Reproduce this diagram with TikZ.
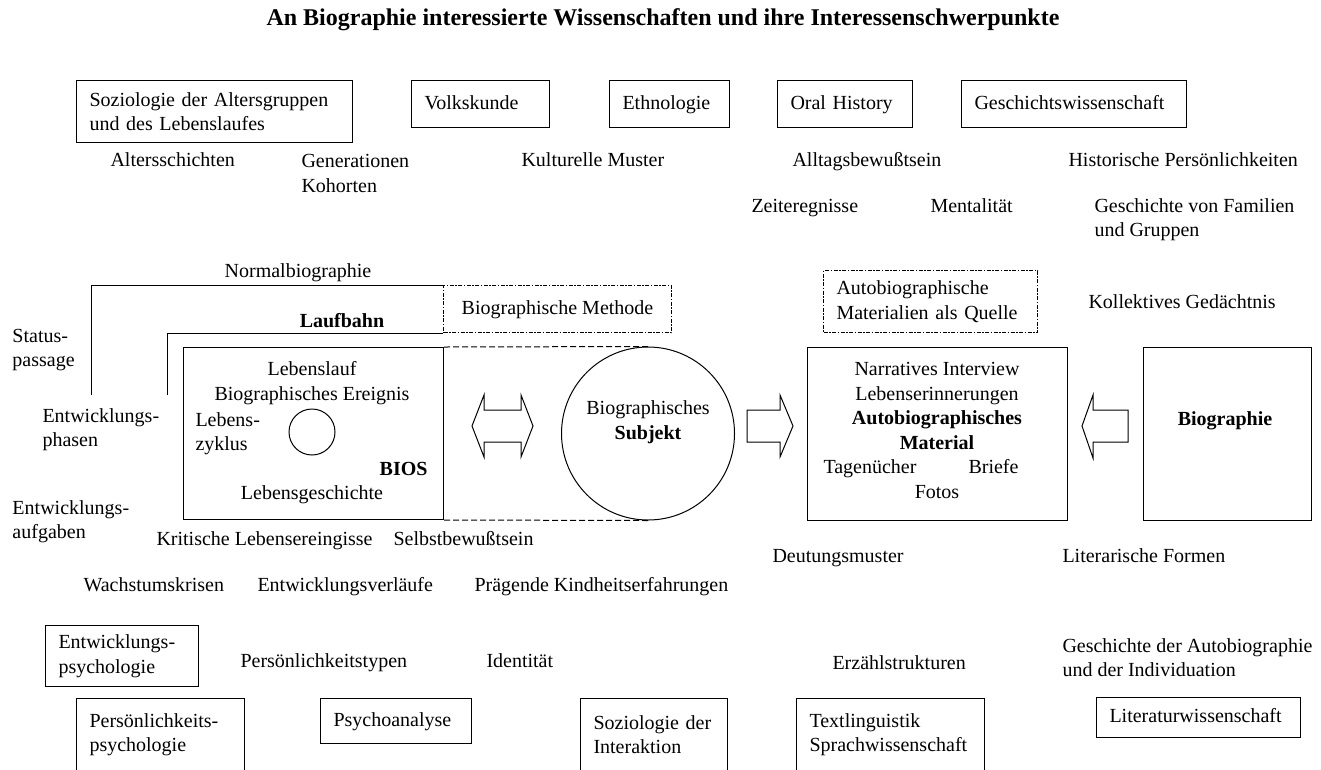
\documentclass[tikz,border=0pt]{standalone}
\usepackage{fontspec}
\setmainfont{Liberation Serif}
\begin{document}
\begin{tikzpicture}[x=1pt,y=-1pt,line width=1pt,
  every node/.style={font=\fontsize{20}{24.5}\selectfont}]

\tikzstyle{lbl}=[inner sep=0pt,anchor=west,align=left]
\tikzstyle{one}=[text height=14pt,text depth=4pt]
\tikzstyle{fett}=[font=\fontsize{20}{24.5}\selectfont\bfseries]
\tikzstyle{box}=[draw,inner xsep=13pt,inner ysep=0pt,anchor=north west,align=left]
\tikzstyle{quelle}=[box,dash pattern=on 4pt off 1.5pt on 1.5pt off 1.5pt]
\tikzstyle{frame}=[draw,inner sep=0pt,anchor=north west]
\tikzstyle{blockarrow}=[draw,fill=white]

\useasboundingbox (0,0) rectangle (1321,769);
\clip (0,0) rectangle (1321,769);

\node[font=\fontsize{24}{28}\selectfont\bfseries] (title) at (663,20) {An Biographie interessierte Wissenschaften und ihre Interessenschwerpunkte};

% Wissenschaften oben
\node[box,text width=250pt,minimum height=62pt] (soz) at (76,80) {Soziologie der Altersgruppen\\und des Lebenslaufes};
\node[box,one,text width=112pt,minimum height=47pt] (volk) at (411,80) {Volkskunde};
\node[box,one,text width=94pt,minimum height=47pt] (ethno) at (609,80) {Ethnologie};
\node[box,one,text width=109pt,minimum height=47pt] (oral) at (777,80) {Oral History};
\node[box,one,text width=199pt,minimum height=47pt] (gesch) at (961,80) {Geschichtswissenschaft};

\node[lbl,one] (alters) at (110,161) {Altersschichten};
\node[lbl] (gener) at (301,173.5) {Generationen\\Kohorten};
\node[lbl,one] (kultur) at (521,161) {Kulturelle Muster};
\node[lbl,one] (alltag) at (792,161) {Alltagsbewußtsein};
\node[lbl,one] (histor) at (1068,161) {Historische Persönlichkeiten};
\node[lbl,one] (zeit) at (751,207) {Zeiteregnisse};
\node[lbl,one] (mental) at (930,207) {Mentalität};
\node[lbl] (familien) at (1094,219.5) {Geschichte von Familien\\und Gruppen};

% Laufbahn und Methode
\node[lbl,one,anchor=center] (normal) at (298,272) {Normalbiographie};
\node[lbl,one,fett,anchor=center] (laufbahn) at (342,322) {Laufbahn};
\node[quelle,one,minimum width=228pt,minimum height=47pt,align=center] (methode) at (443,285) {Biographische Methode};
\coordinate (normend) at (91,395);
\coordinate (laufend) at (167,395);
\draw (normend) |- (methode.north west);
\draw (laufend) |- (methode.south west);

\node[lbl] (status) at (12,350) {Status-\\passage};
\node[lbl] (phasen) at (42,429.5) {Entwicklungs-\\phasen};
\node[lbl] (aufgaben) at (12,521.5) {Entwicklungs-\\aufgaben};

% BIOS
\node[frame,minimum width=260pt,minimum height=172pt] (bios) at (183,347) {};
\node[lbl,anchor=center,align=center] (lauf) at (312,383) {Lebenslauf\\Biographisches Ereignis};
\node[lbl] (zyklus) at (195,433.5) {Lebens-\\zyklus};
\node[circle,draw,minimum size=46pt,inner sep=0pt] (kreis) at (312,432) {};
\node[lbl,one,fett,anchor=east] (biostext) at (428,470) {BIOS};
\node[lbl,one,anchor=center] (lebensg) at (312,494) {Lebensgeschichte};

% Subjekt
\node[circle,draw,minimum size=173pt,inner sep=0pt] (subj) at (648,433.5) {};
\node[lbl,anchor=center,align=center] (subjtext) at (648,422) {Biographisches\\\textbf{Subjekt}};
\draw[dash pattern=on 6pt off 3pt] (bios.north east) -- (subj.north);
\draw[dash pattern=on 6pt off 3pt] (bios.south east) -- (subj.south);

\draw[blockarrow] (472,426) -- (484,395) -- (484,410) -- (521,410) -- (521,395) -- (533,426)
  -- (521,457) -- (521,442) -- (484,442) -- (484,457) -- cycle;
\draw[blockarrow] (747,410) -- (780,410) -- (780,395) -- (793,426) -- (780,457) -- (780,442) -- (747,442) -- cycle;

% Material
\node[quelle,text width=188pt,minimum height=62pt] (quelle) at (823,270) {Autobiographische\\Materialien als Quelle};
\node[lbl,one] (kollektiv) at (1088,303) {Kollektives Gedächtnis};
\node[frame,minimum width=260pt,minimum height=173pt] (narr) at (807,347) {};
\node[lbl,anchor=center,align=center] (material) at (937,406) {Narratives Interview\\Lebenserinnerungen\\\textbf{Autobiographisches}\\\textbf{Material}};
\node[lbl,one] (tagebuch) at (823,468) {Tagenücher};
\node[lbl,one,anchor=east] (briefe) at (1019,468) {Briefe};
\node[lbl,one,anchor=center] (fotos) at (937,493) {Fotos};

\node[frame,minimum width=168pt,minimum height=173pt] (biographie) at (1143,347) {};
\node[lbl,one,fett,anchor=center] (biotext) at (1225,420) {Biographie};
\draw[blockarrow] (1128,410) -- (1093,410) -- (1093,395) -- (1082,426) -- (1093,458) -- (1093,442) -- (1128,442) -- cycle;

% unten
\node[lbl,one] (kritisch) at (156,540) {Kritische Lebensereingisse};
\node[lbl,one] (selbst) at (393,540) {Selbstbewußtsein};
\node[lbl,one] (deutung) at (772,557) {Deutungsmuster};
\node[lbl,one] (formen) at (1062,557) {Literarische Formen};
\node[lbl,one] (wachstum) at (83,586) {Wachstumskrisen};
\node[lbl,one] (verlauf) at (257,586) {Entwicklungsverläufe};
\node[lbl,one] (kindheit) at (474,586) {Prägende Kindheitserfahrungen};

\node[box,text width=127pt,minimum height=61pt] (entwpsy) at (45,625) {Entwicklungs-\\psychologie};
\node[lbl,one] (typen) at (240,662) {Persönlichkeitstypen};
\node[lbl,one] (ident) at (486,662) {Identität};
\node[lbl,one] (erzaehl) at (832,664) {Erzählstrukturen};
\node[lbl] (individ) at (1062,657.5) {Geschichte der Autobiographie\\und der Individuation};

\node[box,text width=142pt,minimum height=72pt] (perspsy) at (76,698) {Persönlichkeits-\\psychologie};
\node[box,one,text width=125pt,minimum height=45pt] (psychoan) at (320,698) {Psychoanalyse};
\node[box,text width=121pt,minimum height=72pt] (interakt) at (580,698) {Soziologie der\\Interaktion};
\node[box,text width=162pt,minimum height=72pt] (sprache) at (796,698) {Textlinguistik\\Sprachwissenschaft};
\node[box,one,text width=178pt,minimum height=40pt] (litwiss) at (1096,697) {Literaturwissenschaft};

\end{tikzpicture}
\end{document}
